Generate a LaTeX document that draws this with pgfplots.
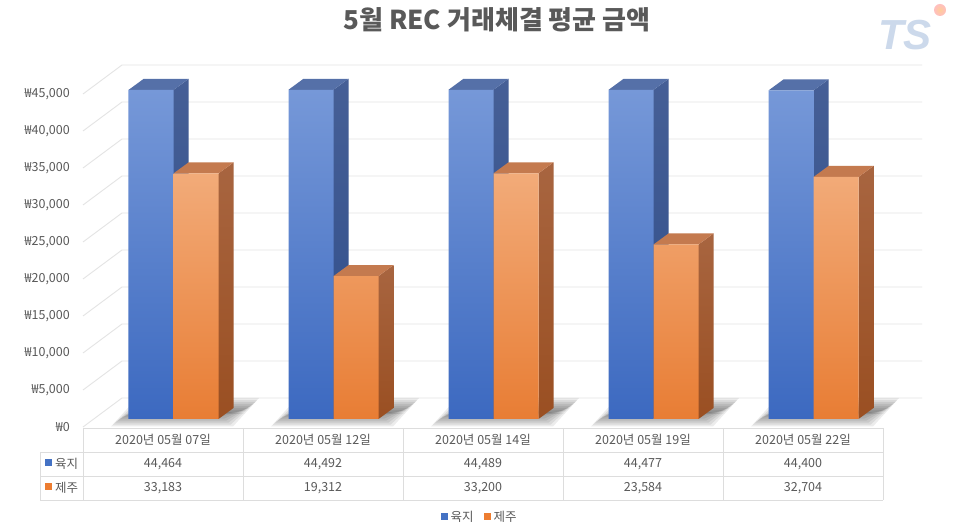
\documentclass[border=0pt]{standalone}
\usepackage{fontspec}
\setmainfont{Noto Sans CJK KR}
\newfontfamily\logofont{Liberation Sans}
\usepackage{pgfplots}
\pgfplotsset{compat=1.18}
\usepackage{pgfplotstable}
\definecolor{txt}{HTML}{595959}
\definecolor{gridc}{HTML}{E4E4E4}
\definecolor{tabc}{HTML}{DDDDDD}
\definecolor{bFt}{HTML}{7698D8}
\definecolor{bFb}{HTML}{3C69C0}
\definecolor{bSt}{HTML}{465F96}
\definecolor{bSb}{HTML}{2E4D8A}
\definecolor{bT}{HTML}{5570A8}
\definecolor{oFt}{HTML}{F2AB79}
\definecolor{oFb}{HTML}{E87D34}
\definecolor{oSt}{HTML}{A86540}
\definecolor{oSb}{HTML}{9A4F22}
\definecolor{oT}{HTML}{C47A4F}
\definecolor{leg1}{HTML}{4472C4}
\definecolor{leg2}{HTML}{ED7D31}
\definecolor{logoc}{HTML}{CCD9EB}

\pgfplotstableread{
i yuk jeju
0 44464 33183
1 44492 19312
2 44489 33200
3 44477 23584
4 44400 32704
}\data
\pgfplotstableread{
a b c d
0 0 1 0
1 0 1 0
1 1 1 1
0 1 1 1
}\topface
\pgfplotstableread{
a b c d
1 0 0 0
1 1 0 1
1 1 1 1
1 0 1 0
}\sideface

\begin{document}
\begin{tikzpicture}[x=1pt,y=1pt,every node/.style={text=txt,font=\fontsize{12.5}{15}\selectfont}]
\path[use as bounding box, fill=white] (0,0) rectangle (954,532);

% back wall grid and left diagonals
\foreach \k in {0,...,9}{
  \pgfmathsetmacro\yy{105+37*\k}
  \draw[gridc, line width=0.9pt] (83,\yy) -- ++(39,29) -- ++(800,0);
}
% floor shadows (layered to imitate blur)
\foreach \i in {0,...,4}{
  \pgfmathsetmacro\cx{163+160*\i}
  \foreach \s in {0,...,8}{
    \pgfmathsetmacro\ss{2.2*\s}
    \fill[black,opacity=0.075] (\cx-52+\ss,105.5+0.9*\ss) -- (\cx+70-\ss,105.5+0.9*\ss) -- (\cx+96-0.8*\ss,134-0.9*\ss) -- (\cx-26+1.2*\ss,134-0.9*\ss) -- cycle;
  }
}

\begin{axis}[at={(83pt,105pt)}, anchor=south west, scale only axis,
  width=800pt, height=333pt,
  xmin=-0.5, xmax=4.5, ymin=0, ymax=45000, clip=false,
  axis line style={draw=none}, tick style={draw=none}, xtick=\empty,
  scaled y ticks=false,
  ytick={0,5000,10000,15000,20000,25000,30000,35000,40000,45000},
  yticklabels={₩0,{₩5,000},{₩10,000},{₩15,000},{₩20,000},{₩25,000},{₩30,000},{₩35,000},{₩40,000},{₩45,000}},
  yticklabel style={anchor=east, inner sep=0pt, xshift=-13pt, text=txt, font=\fontsize{12.5}{15}\selectfont},
  enlargelimits=false,
]
% blue series 육지
\pgfplotsinvokeforeach{0,1,2,3,4}{
  \pgfplotstablegetelem{#1}{yuk}\of\data
  \edef\vv{\pgfplotsretval}
  \addplot[draw=none, top color=bSt, bottom color=bSb, xshift=10.5pt, yshift=8pt, forget plot]
    table[x expr={#1-0.28125+\thisrow{a}*0.28125+\thisrow{b}*0.09375}, y expr={\thisrow{c}*\vv+\thisrow{d}*1486}] {\sideface};
  \addplot[draw=none, fill=bT, xshift=10.5pt, yshift=8pt, forget plot]
    table[x expr={#1-0.28125+\thisrow{a}*0.28125+\thisrow{b}*0.09375}, y expr={\thisrow{c}*\vv+\thisrow{d}*1486}] {\topface};
}
\addplot[ybar, bar width=45pt, bar shift=-22.5pt, draw=none, top color=bFt, bottom color=bFb, xshift=10.5pt, yshift=8pt]
  table[x=i, y=yuk] {\data};
% orange series 제주
\pgfplotsinvokeforeach{0,1,2,3,4}{
  \pgfplotstablegetelem{#1}{jeju}\of\data
  \edef\vv{\pgfplotsretval}
  \addplot[draw=none, top color=oSt, bottom color=oSb, xshift=10.5pt, yshift=8pt, forget plot]
    table[x expr={#1+\thisrow{a}*0.28125+\thisrow{b}*0.09375}, y expr={\thisrow{c}*\vv+\thisrow{d}*1486}] {\sideface};
  \addplot[draw=none, fill=oT, xshift=10.5pt, yshift=8pt, forget plot]
    table[x expr={#1+\thisrow{a}*0.28125+\thisrow{b}*0.09375}, y expr={\thisrow{c}*\vv+\thisrow{d}*1486}] {\topface};
}
\addplot[ybar, bar width=45pt, bar shift=22.5pt, draw=none, top color=oFt, bottom color=oFb, xshift=10.5pt, yshift=8pt]
  table[x=i, y=jeju] {\data};
\end{axis}

% data table
\draw[tabc, line width=0.8pt] (83,104) -- (883,104);
\draw[tabc, line width=0.8pt] (40,80) -- (883,80);
\draw[tabc, line width=0.8pt] (40,55.5) -- (883,55.5);
\draw[tabc, line width=0.8pt] (40,32) -- (883,32);
\draw[tabc, line width=0.8pt] (40,80) -- (40,32);
\foreach \xx in {83,243,403,563,723,883}{
  \draw[tabc, line width=0.8pt] (\xx,104) -- (\xx,32);
}
\node at (163,92) {2020년 05월 07일};
\node at (323,92) {2020년 05월 12일};
\node at (483,92) {2020년 05월 14일};
\node at (643,92) {2020년 05월 19일};
\node at (803,92) {2020년 05월 22일};
\node at (163,68) {44,464};
\node at (323,68) {44,492};
\node at (483,68) {44,489};
\node at (643,68) {44,477};
\node at (803,68) {44,400};
\node at (163,44) {33,183};
\node at (323,44) {19,312};
\node at (483,44) {33,200};
\node at (643,44) {23,584};
\node at (803,44) {32,704};
\fill[leg1] (45,66) rectangle (51.5,72.5);
\node[anchor=west, inner sep=0pt] at (55,68) {육지};
\fill[leg2] (45,42) rectangle (51.5,48.5);
\node[anchor=west, inner sep=0pt] at (55,44) {제주};

% legend
\fill[leg1] (441,12) rectangle (447.5,18.5);
\node[anchor=west, inner sep=0pt] at (450.5,15.5) {육지};
\fill[leg2] (484,12) rectangle (490.5,18.5);
\node[anchor=west, inner sep=0pt] at (493.5,15.5) {제주};

% title
\node[font=\fontsize{26}{30}\selectfont\bfseries, text=txt] at (497,512) {5월 REC 거래체결 평균 금액};

% logo
\node[font=\logofont\bfseries\itshape\fontsize{42}{42}\selectfont, text=logoc] at (905,497) {TS};
\shade[inner color=orange!40, outer color=red!25] (940,522) circle (6);
\end{tikzpicture}
\end{document}
